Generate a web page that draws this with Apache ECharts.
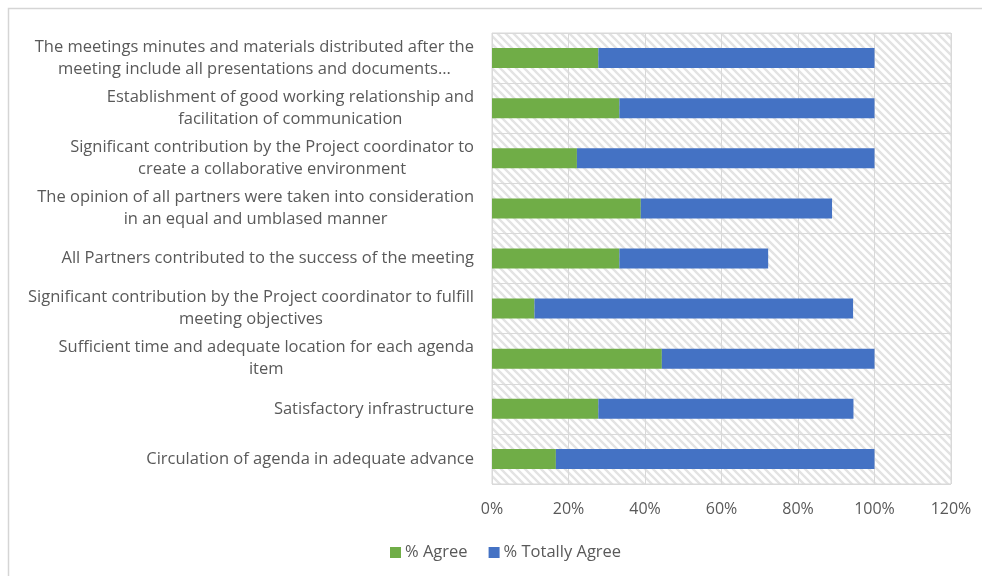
<!DOCTYPE html>
<html>
<head>
<meta charset="utf-8">
<script src="https://cdn.jsdelivr.net/npm/echarts@6/dist/echarts.min.js"></script>
<style>
  html, body { margin: 0; padding: 0; background: #fff; }
  #chart { width: 982px; height: 576px; }
</style>
</head>
<body>
<div id="chart"></div>
<script>
// Survey statements, listed top to bottom
const categories = [
  'The meetings minutes and materials distributed after the\nmeeting include all presentations and documents…',
  'Establishment of good working relationship and\nfacilitation of communication',
  'Significant contribution by the Project coordinator to\ncreate a collaborative environment',
  'The opinion of all partners were taken into consideration\nin an equal and umblased manner',
  'All Partners contributed to the success of the meeting',
  'Significant contribution by the Project coordinator to fulfill\nmeeting objectives',
  'Sufficient time and adequate location for each agenda\nitem',
  'Satisfactory infrastructure',
  'Circulation of agenda in adequate advance'
];

// Share of respondents per answer
const agree        = [0.278, 0.333, 0.222, 0.389, 0.333, 0.111, 0.444, 0.278, 0.167];
const totallyAgree = [0.722, 0.667, 0.778, 0.500, 0.389, 0.833, 0.556, 0.667, 0.833];

const seriesNames = ['% Agree', '% Totally Agree'];
const xTicks = { min: 0, max: 1.2, step: 0.2 };

const FONT = '"Open Sans", Lato, sans-serif';
const TEXT = '#595959';
const GRID = '#d9d9d9';

// Diagonal hatch tile for the plot background
function hatchTile() {
  const s = 8;
  const c = document.createElement('canvas');
  c.width = s; c.height = s;
  const g = c.getContext('2d');
  g.fillStyle = '#ffffff';
  g.fillRect(0, 0, s, s);
  g.strokeStyle = '#e3e3e3';
  g.lineWidth = 2.4;
  g.beginPath();
  g.moveTo(-2, -2); g.lineTo(s + 2, s + 2);
  g.moveTo(-2, s - 2); g.lineTo(2, s + 2);
  g.moveTo(s - 2, -2); g.lineTo(s + 2, 2);
  g.stroke();
  return c;
}

const chart = echarts.init(document.getElementById('chart'), null, { renderer: 'canvas' });

chart.setOption({
  animation: false,
  textStyle: { fontFamily: FONT },
  graphic: [{
    type: 'rect',
    silent: true,
    shape: { x: 8.5, y: 8.5, width: 1000, height: 600 },
    style: { fill: 'none', stroke: '#d5d5d5', lineWidth: 1.5 }
  }],
  grid: {
    left: 492, top: 33, width: 459, height: 451,
    show: true,
    backgroundColor: { image: hatchTile(), repeat: 'repeat' },
    borderColor: GRID,
    borderWidth: 1,
    containLabel: false
  },
  legend: {
    left: 385,
    top: 539,
    itemWidth: 11,
    itemHeight: 11,
    itemGap: 21,
    icon: 'rect',
    textStyle: { color: TEXT, fontSize: 16.5, fontFamily: FONT, padding: [0, 0, 0, -1] },
    data: seriesNames
  },
  xAxis: {
    type: 'value',
    min: xTicks.min,
    max: xTicks.max,
    interval: xTicks.step,
    axisLine: { show: false },
    axisTick: { show: false },
    splitLine: { show: true, lineStyle: { color: GRID, width: 1 } },
    axisLabel: {
      color: TEXT,
      fontSize: 16,
      fontFamily: FONT,
      margin: 17,
      formatter: v => Math.round(v * 100) + '%'
    }
  },
  yAxis: {
    type: 'category',
    inverse: true,
    data: categories,
    axisLine: { show: false },
    axisTick: { show: false },
    splitLine: { show: true, lineStyle: { color: GRID, width: 1 } },
    axisLabel: {
      margin: 18,
      color: TEXT,
      fontSize: 16.5,
      fontFamily: FONT,
      lineHeight: 22,
      formatter: v => v.split('\n').map(s => '{c|' + s + '}').join('\n'),
      rich: {
        c: { align: 'center', color: TEXT, fontSize: 16.5, fontFamily: FONT, lineHeight: 22 }
      }
    }
  },
  series: [
    {
      name: seriesNames[0],
      type: 'bar',
      stack: 'total',
      barWidth: 20,
      itemStyle: { color: '#70ad47' },
      data: agree
    },
    {
      name: seriesNames[1],
      type: 'bar',
      stack: 'total',
      barWidth: 20,
      itemStyle: { color: '#4472c4' },
      data: totallyAgree
    }
  ]
});
</script>
</body>
</html>
